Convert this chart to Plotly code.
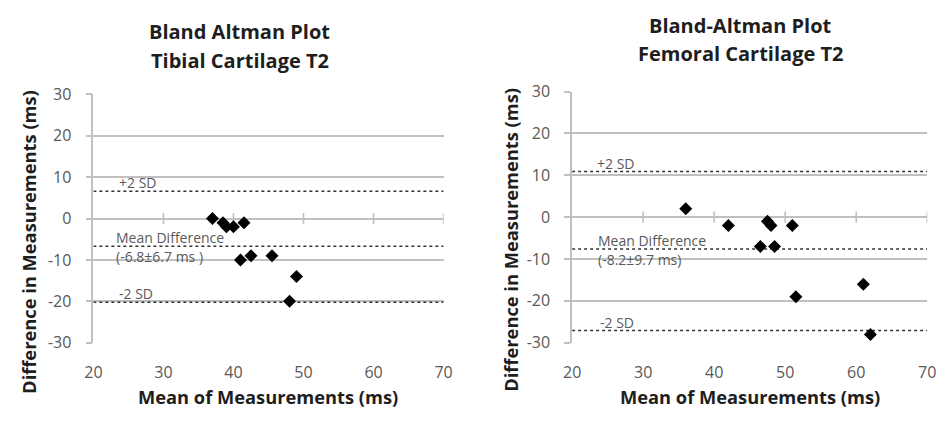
import plotly.graph_objects as go

W, H = 950, 422

# ---- data ----
tib_mean = [37, 38.5, 39, 40, 41.5, 41, 42.5, 45.5, 49, 48]
tib_diff = [0, -1, -2, -2, -1, -10, -9, -9, -14, -20]
tib_lines = [6.6, -6.7, -20.2]          # +2SD, mean, -2SD
tib_mean_label = "(-6.8±6.7 ms )"

fem_mean = [36, 42, 46.5, 47.5, 48, 48.5, 51, 51.5, 61, 62]
fem_diff = [2, -2, -7, -1, -2, -7, -2, -19, -16, -28]
fem_lines = [10.9, -7.6, -27.1]
fem_mean_label = "(-8.2±9.7 ms)"

x_ticks = [20, 30, 40, 50, 60, 70]
y_ticks = [-30, -20, -10, 0, 10, 20, 30]
y_tick_text = ["-30", "-20", "-10", "0", "10", "20", "30"]
titles = [["Bland Altman Plot", "Tibial Cartilage T2"],
          ["Bland-Altman Plot", "Femoral Cartilage T2"]]
x_title = "Mean of Measurements (ms)"
y_title = "Difference in Measurements (ms)"

FONT = "'Open Sans', sans-serif"
GRID = "#c0c0c0"
TXT = "#595959"
DARK = "#1e1e1e"

# pixel layout
panels = [
    dict(px=(86, 443), py=(88, 350), title_x=235, title_y=(22, 52), ytitle=(20, 244),
         lab_x=(23.4, 22.9, 23.4)),
    dict(px=(574, 936), py=(85, 350), title_x=746, title_y=(15, 45), ytitle=(511, 241),
         lab_x=(23.2, 23.4, 23.7)),
]

fig = go.Figure()
datasets = [(tib_mean, tib_diff, tib_lines, tib_mean_label),
            (fem_mean, fem_diff, fem_lines, fem_mean_label)]

for i, (p, (xm, yd, lines, mlab)) in enumerate(zip(panels, datasets)):
    n = "" if i == 0 else str(i + 1)
    xa, ya = "x" + n, "y" + n
    x0, x1 = p["px"]
    y0, y1 = p["py"]
    fig.layout["xaxis" + n] = dict(
        domain=[x0 / W, x1 / W], range=[20, 70], tickvals=x_ticks,
        showgrid=False, zeroline=False, showline=False, ticks="",
        tickfont=dict(family=FONT, size=16, color=TXT), anchor=ya,
        ticklabelstandoff=18, fixedrange=True,
    )
    fig.layout["yaxis" + n] = dict(
        domain=[1 - y1 / H, 1 - y0 / H], range=[-30, 30],
        tickvals=y_ticks, ticktext=y_tick_text,
        showgrid=True, gridcolor=GRID, gridwidth=1.6, zeroline=False,
        showline=True, linecolor=GRID, linewidth=1.6, ticks="outside",
        ticklen=6, tickcolor=GRID, tickwidth=1.6,
        tickfont=dict(family=FONT, size=16, color=TXT), anchor=xa,
        ticklabelstandoff=11, fixedrange=True,
    )
    # horizontal axis crossing at zero with small tick marks
    fig.add_trace(go.Scatter(
        x=x_ticks[1:], y=[0] * (len(x_ticks) - 1), mode="markers",
        marker=dict(symbol="line-ns", size=8, line=dict(color=GRID, width=1.6)),
        xaxis=xa, yaxis=ya, showlegend=False, hoverinfo="skip"))
    # limit / mean lines
    for v in lines:
        fig.add_trace(go.Scatter(
            x=[20, 70], y=[v, v], mode="lines",
            line=dict(color="#333333", width=1.5, dash="dot"),
            xaxis=xa, yaxis=ya, showlegend=False, hoverinfo="skip"))
    # points
    fig.add_trace(go.Scatter(
        x=xm, y=yd, mode="markers",
        marker=dict(symbol="diamond", size=10, color="black"),
        xaxis=xa, yaxis=ya, showlegend=False))
    # text labels
    lx = p["lab_x"]
    lf = dict(family=FONT, size=14, color=TXT)
    fig.add_annotation(x=lx[0], y=lines[0], xref=xa, yref=ya, text="+2 SD",
                       showarrow=False, xanchor="left", yanchor="bottom",
                       font=lf, yshift=-3)
    fig.add_annotation(x=lx[1], y=lines[1], xref=xa, yref=ya, text="Mean Difference",
                       showarrow=False, xanchor="left", yanchor="bottom",
                       font=lf, yshift=-3)
    fig.add_annotation(x=lx[1], y=lines[1], xref=xa, yref=ya, text=mlab,
                       showarrow=False, xanchor="left", yanchor="top",
                       font=lf, yshift=1)
    fig.add_annotation(x=lx[2], y=lines[2], xref=xa, yref=ya, text="-2 SD",
                       showarrow=False, xanchor="left", yanchor="bottom",
                       font=lf, yshift=-3)
    # titles
    for line_txt, ty in zip(titles[i], p["title_y"]):
        fig.add_annotation(x=p["title_x"] / W, y=1 - ty / H, xref="paper", yref="paper",
                           text="<b>" + line_txt + "</b>", showarrow=False,
                           xanchor="center", yanchor="middle",
                           font=dict(family=FONT, size=20, color=DARK))
    fig.add_annotation(x=(x0 + x1) / 2 / W, y=1 - 407 / H, xref="paper", yref="paper",
                       text="<b>" + x_title + "</b>", showarrow=False,
                       xanchor="center", yanchor="middle",
                       font=dict(family=FONT, size=18.3, color=DARK))
    ytx, yty = p["ytitle"]
    fig.add_annotation(x=ytx / W, y=1 - yty / H,
                       xref="paper", yref="paper",
                       text="<b>" + y_title + "</b>", showarrow=False, textangle=-90,
                       xanchor="center", yanchor="middle",
                       font=dict(family=FONT, size=18.3, color=DARK))

fig.update_layout(width=W, height=H, margin=dict(l=0, r=0, t=0, b=0),
                  paper_bgcolor="white", plot_bgcolor="white", showlegend=False)

fig.write_html("out.html", config={"displayModeBar": False})
